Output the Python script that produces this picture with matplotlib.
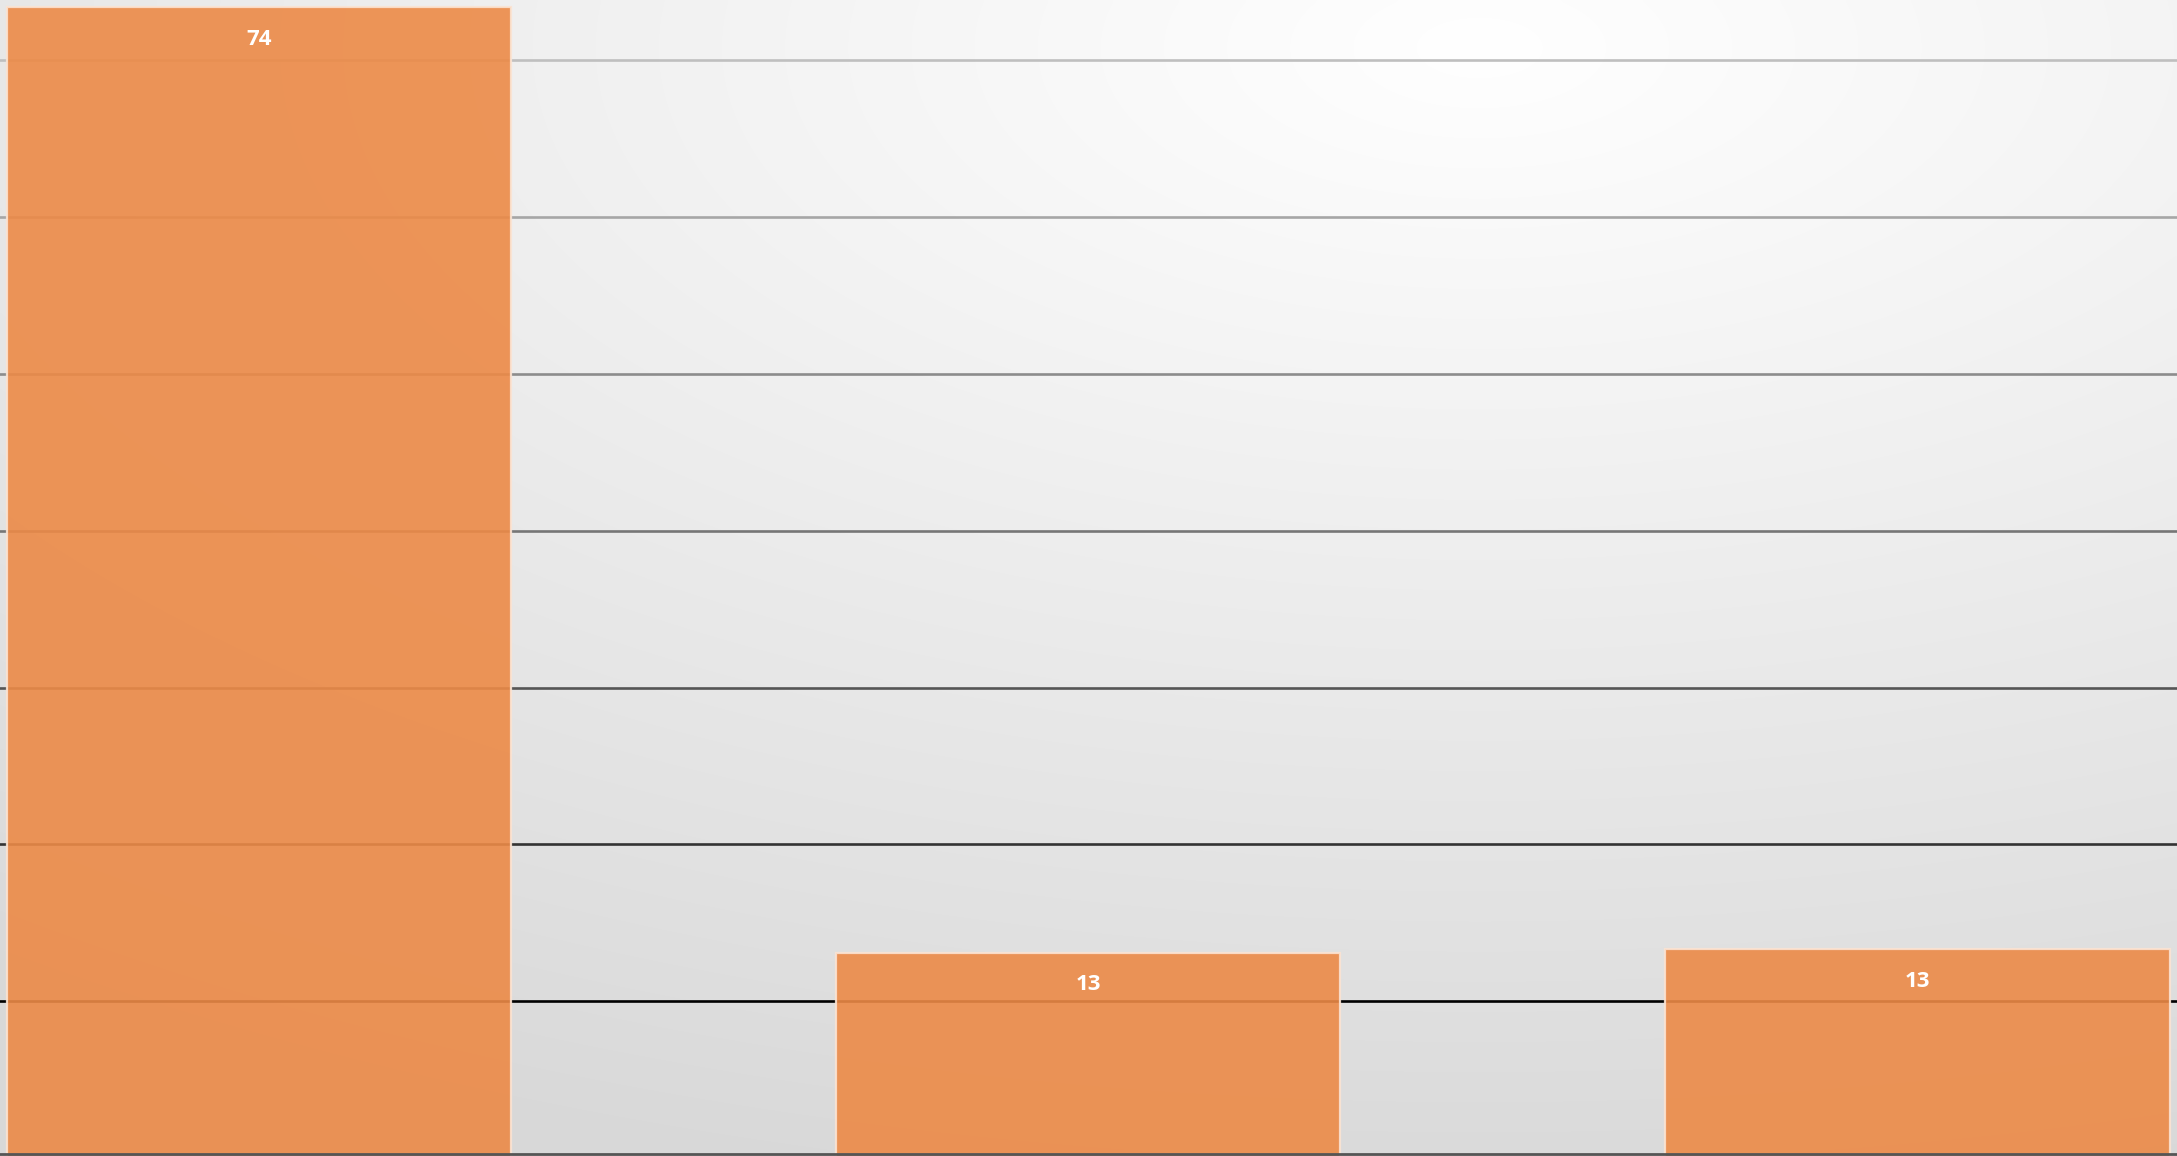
import numpy as np
import matplotlib
matplotlib.use("Agg")
import matplotlib.pyplot as plt

# chart data
categories = ["Category 1", "Category 2", "Category 3"]
values = [73.4, 13.1, 13.3]
labels = ["74", "13", "13"]
grid_levels = [10, 20, 30, 40, 50, 60, 70]
grid_colors = ["#000000", "#333333", "#555555", "#767676", "#8c8c8c", "#a6a6a6", "#bfbfbf"]

W, H = 2177, 1156
fig = plt.figure(figsize=(W / 100, H / 100), dpi=100)
ax = fig.add_axes([0, 0, 1, 1])

x = np.arange(len(categories))
ax.set_xlim(-0.3123, 2.3129)
ax.set_ylim(0.128, 73.85)

# radial gradient background, white near the top middle
yy, xx = np.mgrid[0:1:300j, 0:1:600j]
d = np.sqrt(((xx - 0.68) * 0.9) ** 2 + ((yy - 0.04) * 1.0) ** 2)
g = 1.0 - 0.15 * np.clip(d / 1.0, 0, 1)
bg = np.dstack([g, g, g])
ax.imshow(bg, extent=[0, 1, 0, 1], transform=ax.transAxes, aspect="auto",
          origin="upper", zorder=0, interpolation="bicubic")

# gridlines, darker towards the bottom
for lvl, c in zip(grid_levels, grid_colors):
    ax.axhline(lvl, color=c, lw=1.9, zorder=1)

bars = ax.bar(x, values, width=0.608, color="#ec8a47", alpha=0.9,
              edgecolor="#fbe3d2", linewidth=1.6, zorder=2)

for rect, lab in zip(bars, labels):
    ax.annotate(lab, (rect.get_x() + rect.get_width() / 2, rect.get_height()),
                xytext=(0, -23), textcoords="offset points", ha="center", va="center",
                color="white", fontsize=16, fontweight="bold", family="Open Sans", zorder=3)

ax.axhline(0.26, color="#555555", lw=2, zorder=3)

ax.set_xticks([])
ax.set_yticks([])
for s in ax.spines.values():
    s.set_visible(False)

fig.savefig("out.png", dpi=100)
